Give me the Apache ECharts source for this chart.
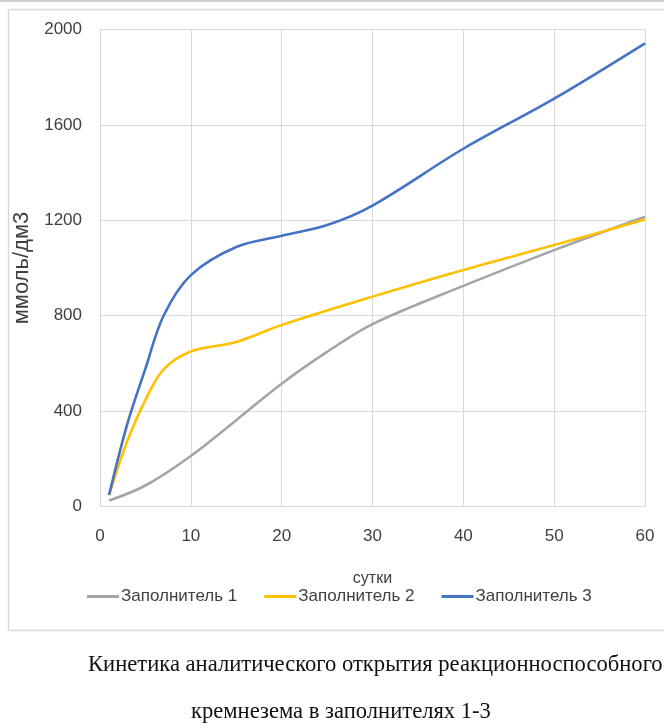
<!DOCTYPE html>
<html>
<head>
<meta charset="utf-8">
<script src="https://cdn.jsdelivr.net/npm/echarts@6/dist/echarts.min.js"></script>
<style>
html,body{margin:0;padding:0;background:#fff;}
#chart{width:664px;height:728px;}
</style>
</head>
<body>
<div id="chart"></div>
<script>
const seriesNames = ['Заполнитель 1', 'Заполнитель 2', 'Заполнитель 3'];
const filler1 = [[1,25],[5,88],[10,212],[15,362],[20,515],[25,648],[30,765],[40,925],[50,1075],[60,1215]];
const filler2 = [[1,48],[3,275],[5,447],[7,575],[10,650],[15,690],[20,761],[30,880],[40,992],[50,1096],[60,1203]];
const filler3 = [[1,48],[3,345],[5,578],[7,800],[10,970],[15,1088],[20,1135],[25,1180],[30,1262],[40,1500],[50,1710],[60,1942]];
const xTicks = [0,10,20,30,40,50,60];
const yTicks = [0,400,800,1200,1600,2000];
const xAxisName = 'сутки';
const yAxisName = 'ммоль/дм3';
const captionLines = ['Кинетика аналитического открытия реакционноспособного', 'кремнезема в заполнителях 1-3'];
const colors = ['#A5A5A5', '#FFC000', '#4472C4'];

const chart = echarts.init(document.getElementById('chart'), null, {renderer:'canvas'});
const font = '"Liberation Sans", Arial, sans-serif';
const mk = (name, data, color) => ({
  name, type:'line', data, smooth:0.35, symbol:'none',
  lineStyle:{color, width:2.6}, itemStyle:{color}
});
chart.setOption({
  animation:false,
  backgroundColor:'#fff',
  textStyle:{fontFamily:font},
  grid:{left:100, right:19, top:29.5, bottom:221.5, containLabel:false},
  xAxis:{
    type:'value', min:xTicks[0], max:xTicks[xTicks.length-1], interval:10,
    name:xAxisName, nameLocation:'middle', nameGap:64,
    nameTextStyle:{color:'#404040', fontSize:16, fontFamily:font},
    axisLine:{show:true, lineStyle:{color:'#d9d9d9'}},
    axisTick:{show:false},
    axisLabel:{color:'#404040', fontSize:17, margin:21, fontFamily:font, formatter:v => String(v)},
    splitLine:{show:true, lineStyle:{color:'#d9d9d9', width:1}}
  },
  yAxis:{
    type:'value', min:yTicks[0], max:yTicks[yTicks.length-1], interval:400,
    name:yAxisName, nameLocation:'middle', nameGap:57, nameRotate:90,
    nameTextStyle:{color:'#404040', fontSize:22, fontFamily:font},
    axisLine:{show:true, lineStyle:{color:'#d9d9d9'}},
    axisTick:{show:false},
    axisLabel:{color:'#404040', fontSize:17, margin:18, fontFamily:font, formatter:v => String(v)},
    splitLine:{show:true, lineStyle:{color:'#d9d9d9', width:1}}
  },
  legend:{
    left:82, top:583, itemWidth:32, itemHeight:3, itemGap:27, icon:'rect',
    textStyle:{color:'#404040', fontSize:17, fontFamily:font, padding:[0,0,0,-3]},
    data:seriesNames
  },
  series:[mk(seriesNames[0], filler1, colors[0]), mk(seriesNames[1], filler2, colors[1]), mk(seriesNames[2], filler3, colors[2])],
  graphic:[
    {type:'rect', left:6, top:7, shape:{width:700, height:621}, style:{fill:'none', stroke:'#d9d9d9', lineWidth:1.5}, silent:true, z:-1},
    {type:'rect', left:0, top:0, shape:{width:664, height:2}, style:{fill:'#cfcfcf'}, silent:true},
    {type:'text', left:88, top:654, style:{text:captionLines[0], font:'22.6px "Liberation Serif", "Times New Roman", serif', fill:'#111'}},
    {type:'text', left:191, top:701, style:{text:captionLines[1], font:'22.6px "Liberation Serif", "Times New Roman", serif', fill:'#111'}}
  ]
});
</script>
</body>
</html>
